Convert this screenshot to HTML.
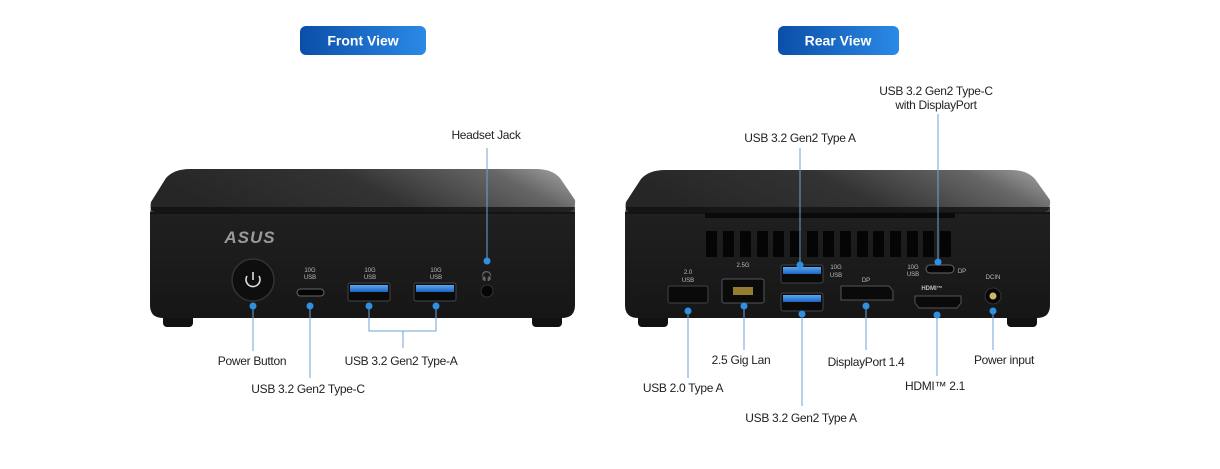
<!DOCTYPE html>
<html><head><meta charset="utf-8"><style>
html,body{margin:0;padding:0;background:#fff;}
svg{display:block;}
text{font-family:"Liberation Sans",sans-serif;}
.l{font-size:12px;fill:#222;text-anchor:middle;letter-spacing:-0.3px;}
.ln{stroke:#6fa3d6;stroke-width:1;fill:none;}
.d{fill:#2f8fe0;}
.s{font-size:6px;fill:#bbb;text-anchor:middle;}
</style></head><body>
<svg width="1220" height="469" viewBox="0 0 1220 469" xmlns="http://www.w3.org/2000/svg">
<defs>
<linearGradient id="btn" x1="0" x2="1"><stop offset="0" stop-color="#0b4ea8"/><stop offset="1" stop-color="#2a8ae6"/></linearGradient>
<linearGradient id="topF" x1="0" x2="1" y1="0.2" y2="0"><stop offset="0" stop-color="#262626"/><stop offset="0.45" stop-color="#333"/><stop offset="0.8" stop-color="#666"/><stop offset="1" stop-color="#a8a8a8"/></linearGradient>
<linearGradient id="face" x1="0" x2="0" y1="0" y2="1"><stop offset="0" stop-color="#202020"/><stop offset="1" stop-color="#161616"/></linearGradient>
<linearGradient id="usb" x1="0" x2="0" y1="0" y2="1"><stop offset="0" stop-color="#5aa6f0"/><stop offset="1" stop-color="#1c64c0"/></linearGradient>
</defs>
<!-- buttons -->
<rect x="300" y="26" width="126" height="29" rx="6" fill="url(#btn)"/>
<text x="363" y="45.5" font-size="14" font-weight="bold" fill="#fff" text-anchor="middle">Front View</text>
<rect x="778" y="26" width="121" height="29" rx="6" fill="url(#btn)"/>
<text x="838" y="45.5" font-size="14" font-weight="bold" fill="#fff" text-anchor="middle">Rear View</text>

<!-- FRONT DEVICE -->
<rect x="163" y="310" width="30" height="17" rx="4" fill="#111"/>
<rect x="532" y="310" width="30" height="17" rx="4" fill="#111"/>
<path d="M150 212 L150 305 Q150 318 163 318 L562 318 Q575 318 575 305 L575 212 Z" fill="url(#face)"/>
<path d="M190 169 L536 169 Q552 169 560 178 L575 200 Q576 212 568 212 L156 212 Q149 212 151 202 L166 178 Q174 169 190 169 Z" fill="url(#topF)"/>
<path d="M151 207 L575 207 L575 214 L150 214 Z" fill="#111" opacity="0.8"/>
<text x="250" y="243" font-size="17" font-style="italic" font-weight="bold" fill="#9a9a9a" text-anchor="middle" letter-spacing="1">ASUS</text>
<circle cx="253" cy="280" r="21" fill="#0e0e0e" stroke="#333" stroke-width="1.5"/>
<path d="M247 276 A7 7 0 1 0 259 276" stroke="#ddd" stroke-width="1.6" fill="none"/>
<line x1="253" y1="272" x2="253" y2="280" stroke="#ddd" stroke-width="1.6"/>
<text class="s" x="310" y="272">10G</text><text class="s" x="310" y="279">USB</text>
<rect x="297" y="289" width="27" height="7" rx="3.5" fill="#050505" stroke="#666" stroke-width="1"/>
<text class="s" x="370" y="272">10G</text><text class="s" x="370" y="279">USB</text>
<rect x="348" y="283" width="42" height="18" rx="2" fill="#0a0a0a" stroke="#444"/>
<rect x="350" y="285" width="38" height="7" fill="url(#usb)"/>
<text class="s" x="436" y="272">10G</text><text class="s" x="436" y="279">USB</text>
<rect x="414" y="283" width="42" height="18" rx="2" fill="#0a0a0a" stroke="#444"/>
<rect x="416" y="285" width="38" height="7" fill="url(#usb)"/>
<circle cx="487" cy="291" r="6" fill="#050505" stroke="#333"/>
<text x="487" y="279" font-size="9" fill="#ccc" text-anchor="middle">🎧</text>

<!-- front connectors -->
<line class="ln" x1="253" y1="306" x2="253" y2="351"/>
<line class="ln" x1="310" y1="306" x2="310" y2="378"/>
<path class="ln" d="M369 306 V331 H436 V306 M403 331 V348"/>
<line class="ln" x1="487" y1="148" x2="487" y2="261"/>
<circle class="d" cx="253" cy="306" r="3.5"/><circle class="d" cx="310" cy="306" r="3.5"/>
<circle class="d" cx="369" cy="306" r="3.5"/><circle class="d" cx="436" cy="306" r="3.5"/>
<circle class="d" cx="487" cy="261" r="3.5"/>
<text class="l" x="252" y="365">Power Button</text>
<text class="l" x="308" y="393">USB 3.2 Gen2 Type-C</text>
<text class="l" x="401" y="365">USB 3.2 Gen2 Type-A</text>
<text class="l" x="486" y="139">Headset Jack</text>

<!-- REAR DEVICE -->
<rect x="638" y="310" width="30" height="17" rx="4" fill="#111"/>
<rect x="1007" y="310" width="30" height="17" rx="4" fill="#111"/>
<path d="M625 212 L625 305 Q625 318 638 318 L1037 318 Q1050 318 1050 305 L1050 212 Z" fill="url(#face)"/>
<path d="M665 170 L1011 170 Q1027 170 1035 179 L1050 200 Q1051 212 1043 212 L631 212 Q624 212 626 202 L641 179 Q649 170 665 170 Z" fill="url(#topF)"/>
<path d="M626 207 L1050 207 L1050 214 L625 214 Z" fill="#111" opacity="0.8"/>
<rect x="705" y="213" width="250" height="5" fill="#0a0a0a"/>
<g fill="#050505">
<rect x="706" y="231" width="11" height="26"/><rect x="723" y="231" width="11" height="26"/><rect x="740" y="231" width="11" height="26"/><rect x="757" y="231" width="11" height="26"/><rect x="773" y="231" width="11" height="26"/><rect x="790" y="231" width="11" height="26"/><rect x="807" y="231" width="11" height="26"/><rect x="823" y="231" width="11" height="26"/><rect x="840" y="231" width="11" height="26"/><rect x="857" y="231" width="11" height="26"/><rect x="873" y="231" width="11" height="26"/><rect x="890" y="231" width="11" height="26"/><rect x="907" y="231" width="11" height="26"/><rect x="923" y="231" width="11" height="26"/><rect x="940" y="231" width="11" height="26"/>
</g>
<text class="s" x="688" y="274">2.0</text><text class="s" x="688" y="282">USB</text>
<rect x="668" y="286" width="40" height="17" rx="2" fill="#0a0a0a" stroke="#444"/>
<text class="s" x="743" y="267" font-size="7">2.5G</text>
<rect x="722" y="279" width="42" height="24" rx="2" fill="#0a0a0a" stroke="#555"/>
<rect x="733" y="287" width="20" height="8" fill="#b89a3a" opacity="0.8"/>
<rect x="781" y="265" width="42" height="18" rx="2" fill="#0a0a0a" stroke="#444"/>
<rect x="783" y="267" width="38" height="7" fill="url(#usb)"/>
<rect x="781" y="293" width="42" height="18" rx="2" fill="#0a0a0a" stroke="#444"/>
<rect x="783" y="295" width="38" height="7" fill="url(#usb)"/>
<text class="s" x="836" y="269">10G</text><text class="s" x="836" y="277">USB</text>
<text class="s" x="866" y="282" font-size="7">DP</text>
<path d="M841 286 H889 L893 291 V300 H841 Z" fill="#0a0a0a" stroke="#555"/>
<text class="s" x="932" y="290" font-size="7" font-weight="bold">HDMI™</text>
<path d="M915 296 H961 V303 L957 308 H919 L915 303 Z" fill="#0a0a0a" stroke="#555"/>
<text class="s" x="913" y="269">10G</text><text class="s" x="913" y="276">USB</text>
<rect x="926" y="265" width="28" height="8" rx="4" fill="#050505" stroke="#666"/>
<text class="s" x="962" y="273" font-size="7">DP</text>
<text class="s" x="993" y="279">DCIN</text>
<circle cx="993" cy="296" r="8" fill="#070707" stroke="#333"/>
<circle cx="993" cy="296" r="3.5" fill="#c9b86a"/>

<!-- rear connectors -->
<line class="ln" x1="688" y1="311" x2="688" y2="378"/>
<line class="ln" x1="744" y1="306" x2="744" y2="350"/>
<line class="ln" x1="802" y1="314" x2="802" y2="406"/>
<line class="ln" x1="800" y1="148" x2="800" y2="265"/>
<line class="ln" x1="866" y1="306" x2="866" y2="350"/>
<line class="ln" x1="937" y1="315" x2="937" y2="376"/>
<line class="ln" x1="938" y1="114" x2="938" y2="262"/>
<line class="ln" x1="993" y1="311" x2="993" y2="350"/>
<circle class="d" cx="688" cy="311" r="3.5"/><circle class="d" cx="744" cy="306" r="3.5"/>
<circle class="d" cx="802" cy="314" r="3.5"/><circle class="d" cx="800" cy="265" r="3.5"/>
<circle class="d" cx="866" cy="306" r="3.5"/><circle class="d" cx="937" cy="315" r="3.5"/>
<circle class="d" cx="938" cy="262" r="3.5"/><circle class="d" cx="993" cy="311" r="3.5"/>
<text class="l" x="683" y="392">USB 2.0 Type A</text>
<text class="l" x="741" y="364">2.5 Gig Lan</text>
<text class="l" x="801" y="422">USB 3.2 Gen2 Type A</text>
<text class="l" x="800" y="142">USB 3.2 Gen2 Type A</text>
<text class="l" x="866" y="366">DisplayPort 1.4</text>
<text class="l" x="935" y="390">HDMI™ 2.1</text>
<text class="l" x="936" y="95">USB 3.2 Gen2 Type-C</text>
<text class="l" x="936" y="109">with DisplayPort</text>
<text class="l" x="1004" y="364">Power input</text>
</svg>
</body></html>
